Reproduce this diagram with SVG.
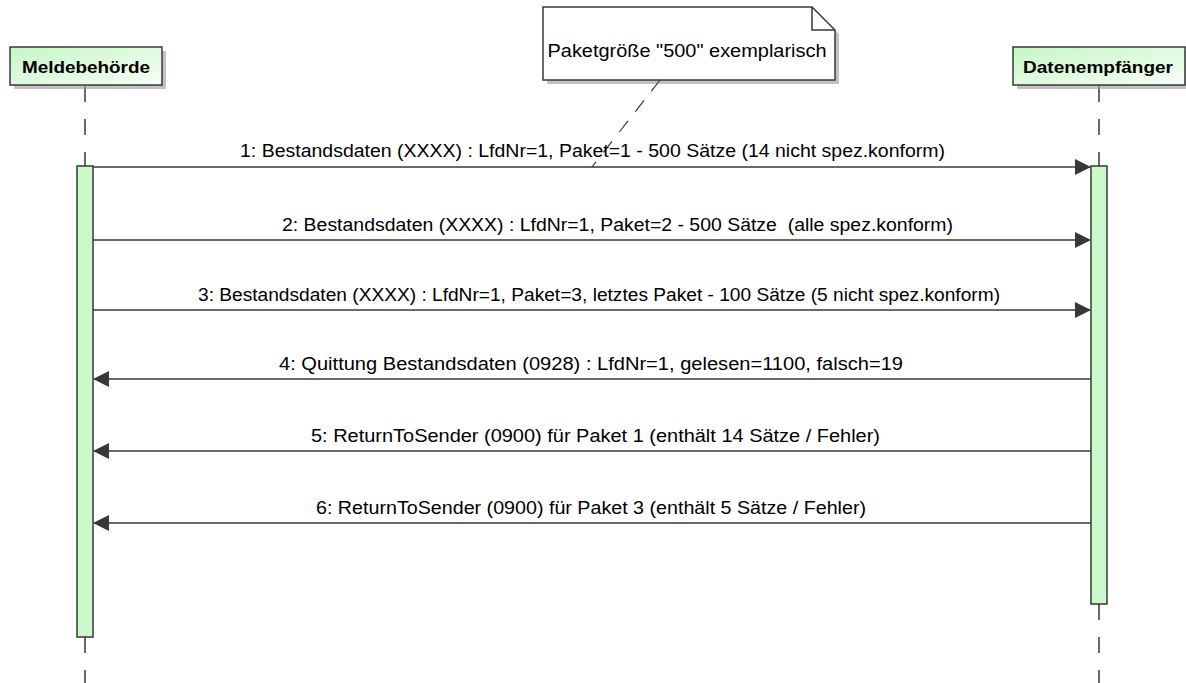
<svg xmlns="http://www.w3.org/2000/svg" width="1186" height="683" viewBox="0 0 1186 683">
<defs>
<linearGradient id="pg" x1="0" y1="0" x2="1" y2="1">
<stop offset="0" stop-color="#c6f6c6"/>
<stop offset="1" stop-color="#f6fff6"/>
</linearGradient>
<marker id="ah" viewBox="0 0 16 16" refX="15" refY="8" markerWidth="16" markerHeight="16" markerUnits="userSpaceOnUse" orient="auto">
<path d="M0,0 L16,8 L0,16 Z" fill="#383838"/>
</marker>
<style>
.life{stroke:#383838;stroke-width:1.5;stroke-dasharray:16,17;fill:none}
.act{fill:#ccf9cc;stroke:#383838;stroke-width:1.5}
.box{fill:url(#pg);stroke:#383838;stroke-width:1.5}
.shadow{fill:#9a9a9a;opacity:0.6}
.pname{font-family:"Liberation Sans",Arial,sans-serif;font-weight:bold;font-size:17px;fill:#000;text-anchor:middle}
.msg{stroke:#383838;stroke-width:1.5;fill:none;marker-end:url(#ah)}
.lbl{font-family:"Liberation Sans",Arial,sans-serif;font-size:17.5px;fill:#000;text-anchor:middle;white-space:pre}
</style>
</defs>
<rect width="1186" height="683" fill="#fff"/>
<g id="lifelines">
<line class="life" x1="85" y1="86" x2="85" y2="166"/>
<line class="life" x1="85" y1="637" x2="85" y2="683"/>
<line class="life" x1="1099" y1="86" x2="1099" y2="166"/>
<line class="life" x1="1099" y1="604" x2="1099" y2="683"/>
</g>
<g id="p_melde">
<rect class="shadow" x="14" y="51" width="152" height="38"/>
<rect class="box" x="10" y="47" width="152" height="38"/>
<text class="pname" x="86" y="73" textLength="128" lengthAdjust="spacingAndGlyphs">Meldebehörde</text>
</g>
<g id="p_daten">
<rect class="shadow" x="1017" y="51" width="172" height="38"/>
<rect class="box" x="1013" y="47" width="172" height="38"/>
<text class="pname" x="1098" y="73" textLength="150" lengthAdjust="spacingAndGlyphs">Datenempfänger</text>
</g>
<g id="act_melde">
<rect class="act" x="77" y="166" width="16" height="471"/>
</g>
<g id="act_daten">
<rect class="act" x="1091" y="166" width="16" height="438"/>
</g>
<g id="note">
<path class="shadow" d="M547,11 L816,11 L839,34 L839,84 L547,84 Z"/>
<path d="M543,7 L812,7 L835,30 L835,80 L543,80 Z" fill="#fff" stroke="#383838" stroke-width="1.5"/>
<path d="M812,7 L812,30 L835,30" fill="none" stroke="#383838" stroke-width="1.5"/>
<text class="lbl" x="687" y="57" textLength="279" lengthAdjust="spacingAndGlyphs">Paketgröße "500" exemplarisch</text>
</g>
<g id="connectors">
<line x1="660" y1="80" x2="592" y2="167" stroke="#383838" stroke-width="1.2" stroke-dasharray="14,12"/>
<line class="msg" x1="93" y1="167" x2="1090" y2="167"/>
<line class="msg" x1="93" y1="240" x2="1090" y2="240"/>
<line class="msg" x1="93" y1="310" x2="1090" y2="310"/>
<line class="msg" x1="1091" y1="379" x2="94" y2="379"/>
<line class="msg" x1="1091" y1="451" x2="94" y2="451"/>
<line class="msg" x1="1091" y1="523" x2="94" y2="523"/>
</g>
<g id="labels">
<text class="lbl" x="592.5" y="157" textLength="705" lengthAdjust="spacingAndGlyphs">1: Bestandsdaten (XXXX) : LfdNr=1, Paket=1 - 500 Sätze (14 nicht spez.konform)</text>
<text class="lbl" x="617.5" y="231" textLength="671" lengthAdjust="spacingAndGlyphs">2: Bestandsdaten (XXXX) : LfdNr=1, Paket=2 - 500 Sätze  (alle spez.konform)</text>
<text class="lbl" x="599" y="301" textLength="802" lengthAdjust="spacingAndGlyphs">3: Bestandsdaten (XXXX) : LfdNr=1, Paket=3, letztes Paket - 100 Sätze (5 nicht spez.konform)</text>
<text class="lbl" x="591" y="370" textLength="624" lengthAdjust="spacingAndGlyphs">4: Quittung Bestandsdaten (0928) : LfdNr=1, gelesen=1100, falsch=19</text>
<text class="lbl" x="595.5" y="442" textLength="569" lengthAdjust="spacingAndGlyphs">5: ReturnToSender (0900) für Paket 1 (enthält 14 Sätze / Fehler)</text>
<text class="lbl" x="591" y="514" textLength="550" lengthAdjust="spacingAndGlyphs">6: ReturnToSender (0900) für Paket 3 (enthält 5 Sätze / Fehler)</text>
</g>
</svg>
